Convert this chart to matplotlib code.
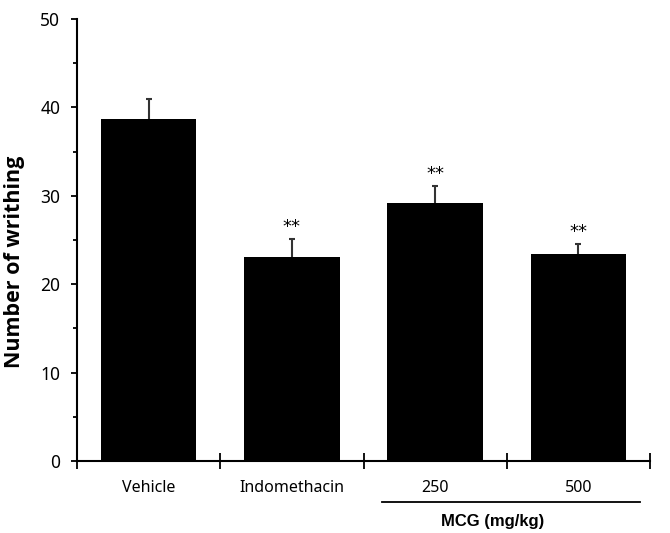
import matplotlib
matplotlib.use("Agg")
import matplotlib.pyplot as plt
from matplotlib.ticker import MultipleLocator, FixedLocator, NullFormatter

categories = ["Vehicle", "Indomethacin", "250", "500"]
means = [38.7, 23.1, 29.2, 23.45]
errors = [2.2, 2.0, 1.9, 1.1]
signif = ["", "**", "**", "**"]
group_label = "MCG (mg/kg)"
ylabel = "Number of writhing"

plt.rcParams['font.family'] = ['Noto Sans', 'DejaVu Sans']

fig = plt.figure(figsize=(6.7, 5.33), dpi=100)
ax = fig.add_axes([77/670, 72/533, (650-77)/670, (461-19)/533])

x = list(range(len(categories)))
ax.errorbar(x, means, yerr=errors, fmt='none',
            ecolor='#333333', elinewidth=1.5, capsize=2.5, capthick=1.5, zorder=1)
ax.bar(x, means, width=0.665, color='black', zorder=2)
for xi, m, e, s in zip(x, means, errors, signif):
    if s:
        ax.text(xi, m + e + 0.3, s, ha='center', va='bottom', fontsize=13,
                color='black', family=['DejaVu Sans'])

ax.set_xlim(-0.5, len(categories) - 0.5)
ax.set_ylim(0, 50)
ax.spines['top'].set_visible(False)
ax.spines['right'].set_visible(False)
ax.spines['left'].set_linewidth(1.5)
ax.spines['bottom'].set_linewidth(1.5)
ax.spines['left'].set_zorder(3)
ax.spines['bottom'].set_zorder(3)

ax.yaxis.set_major_locator(MultipleLocator(10))
ax.yaxis.set_minor_locator(MultipleLocator(5))
ax.tick_params(axis='y', which='major', direction='out', length=4, width=1.3, labelsize=12.5, pad=8)
ax.tick_params(axis='y', which='minor', direction='out', length=3, width=1.3)

ax.xaxis.set_major_locator(FixedLocator([i - 0.5 for i in range(len(categories) + 1)]))
ax.xaxis.set_major_formatter(NullFormatter())
ax.xaxis.set_minor_locator(FixedLocator(x))
ax.set_xticklabels(categories, minor=True)
ax.tick_params(axis='x', which='major', direction='inout', length=11, width=1.3)
ax.tick_params(axis='x', which='minor', length=0, labelsize=11.5, pad=14)

ax.set_ylabel(ylabel, fontsize=15.5, fontweight='bold', family=['Open Sans', 'DejaVu Sans'])
ax.yaxis.set_label_coords(-0.091, 0.45)

trans = ax.get_xaxis_transform()
ax.plot([1.627, 3.43], [-0.092, -0.092], color='black', lw=1.3, transform=trans, clip_on=False)
ax.text(2.40, -0.137, group_label, ha='center', va='center', fontsize=12,
        fontweight='bold', family=['Liberation Sans', 'DejaVu Sans'], transform=trans)

fig.savefig("out.png", dpi=100)
